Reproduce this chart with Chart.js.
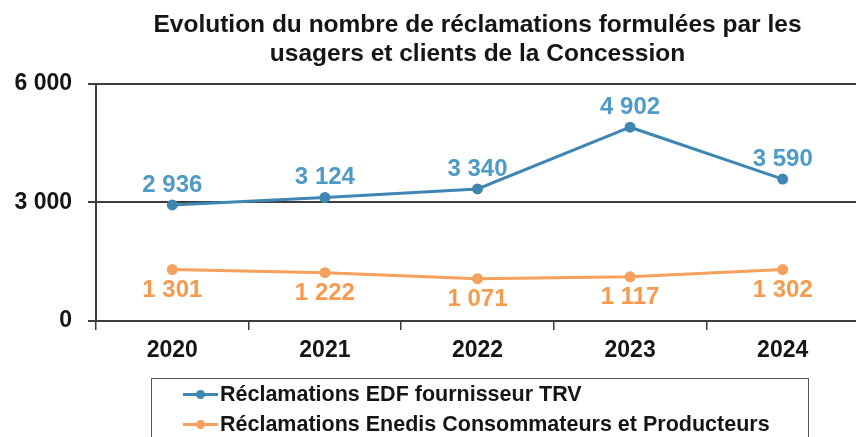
<!DOCTYPE html>
<html>
<head>
<meta charset="utf-8">
<script src="https://cdn.jsdelivr.net/npm/chart.js@4"></script>
<style>
  html, body { margin: 0; padding: 0; background: #fff; overflow: hidden; width: 856px; height: 437px; }
  #wrap { position: absolute; left: 0; top: 0; width: 866px; height: 437px; }
  #legend {
    position: absolute; left: 151px; top: 378px; width: 658px; height: 80px;
    border: 1.5px solid #555; box-sizing: border-box;
    font: bold 21.5px "Liberation Sans", Arial, sans-serif; color: #151515;
  }
  .item { position: absolute; left: 31px; height: 30px; line-height: 30px; display: flex; align-items: center; white-space: nowrap; }
  .mark { position: relative; width: 35px; height: 3px; margin-right: 2px; }
  .mark i { position: absolute; left: 13px; top: -3px; width: 9px; height: 9px; border-radius: 50%; }
</style>
</head>
<body>
<div id="wrap"><canvas id="chart"></canvas></div>
<div id="legend"></div>
<script>
const years = ['2020', '2021', '2022', '2023', '2024'];
const edfValues = [2936, 3124, 3340, 4902, 3590];
const enedisValues = [1301, 1222, 1071, 1117, 1302];
const seriesNames = ['Réclamations EDF fournisseur TRV', 'Réclamations Enedis Consommateurs et Producteurs'];
const titleLines = ['Evolution du nombre de réclamations formulées par les', 'usagers et clients de la Concession'];

const blue = '#3f86b2';
const orange = '#f5a05c';
const blueText = '#4d9bc6';
const orangeText = '#f69a4e';
const gridColor = '#3c3c3c';
const font = '"Liberation Sans", Arial, sans-serif';

function spaced(v) {
  return String(v).replace(/\B(?=(\d{3})+(?!\d))/g, ' ');
}

// value labels drawn above / below each point
const valueLabels = {
  id: 'valueLabels',
  afterDatasetsDraw(chart) {
    const ctx = chart.ctx;
    ctx.save();
    ctx.font = 'bold 24px ' + font;
    ctx.textAlign = 'center';
    ctx.textBaseline = 'middle';
    chart.data.datasets.forEach((ds, i) => {
      const meta = chart.getDatasetMeta(i);
      meta.data.forEach((pt, j) => {
        ctx.fillStyle = ds.labelColor;
        ctx.fillText(spaced(ds.data[j]), pt.x, pt.y + ds.labelOffset);
      });
    });
    ctx.restore();
  }
};

const chart = new Chart(document.getElementById('chart'), {
  type: 'line',
  data: {
    labels: years,
    datasets: [
      {
        label: seriesNames[0],
        data: edfValues,
        borderColor: blue,
        backgroundColor: blue,
        borderWidth: 3,
        pointRadius: 4,
        pointBackgroundColor: blue,
        labelColor: blueText,
        labelOffset: -20
      },
      {
        label: seriesNames[1],
        data: enedisValues,
        borderColor: orange,
        backgroundColor: orange,
        borderWidth: 3,
        pointRadius: 4,
        pointBackgroundColor: orange,
        labelColor: orangeText,
        labelOffset: 21
      }
    ]
  },
  options: {
    responsive: true,
    maintainAspectRatio: false,
    animation: false,
    layout: { padding: { left: 0, right: 0, top: 0, bottom: 56 } },
    plugins: {
      legend: { display: false },
      tooltip: { enabled: false },
      title: {
        display: true,
        fullSize: false,
        text: titleLines,
        color: '#151515',
        font: { family: font, size: 24.5, weight: 'bold', lineHeight: 1.18 },
        padding: { top: 11, bottom: 15 }
      }
    },
    scales: {
      x: {
        offset: true,
        grid: { offset: true, drawOnChartArea: false, tickLength: 9, color: gridColor, lineWidth: 1.5 },
        border: { color: gridColor, width: 2 },
        ticks: { color: '#151515', padding: 7, font: { family: font, size: 23, weight: 'bold' } },
        afterFit(scale) { scale.height = 60; }
      },
      y: {
        min: 0,
        max: 6000,
        ticks: {
          stepSize: 3000,
          color: '#151515',
          padding: 16,
          font: { family: font, size: 23, weight: 'bold' },
          callback: v => spaced(v)
        },
        grid: { color: gridColor, lineWidth: 2, tickLength: 8 },
        border: { color: gridColor, width: 2 },
        afterFit(scale) { scale.width = 96; }
      }
    }
  },
  plugins: [valueLabels]
});

// legend box built from the chart's datasets
const legend = document.getElementById('legend');
chart.data.datasets.forEach((ds, i) => {
  const row = document.createElement('div');
  row.className = 'item';
  row.style.top = (i * 30) + 'px';
  const mark = document.createElement('span');
  mark.className = 'mark';
  mark.style.background = ds.borderColor;
  const dot = document.createElement('i');
  dot.style.background = ds.borderColor;
  mark.appendChild(dot);
  row.appendChild(mark);
  row.appendChild(document.createTextNode(ds.label));
  legend.appendChild(row);
});
</script>
</body>
</html>
